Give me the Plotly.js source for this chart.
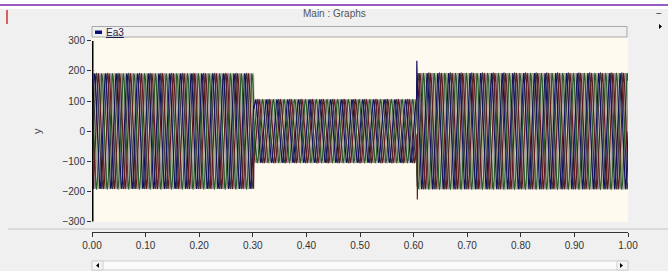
<!DOCTYPE html>
<html>
<head>
<meta charset="utf-8">
<script src="https://cdn.plot.ly/plotly-3.0.1.min.js"></script>
<style>html,body{margin:0;padding:0;background:#f0f0f0;}#chart{width:668px;height:271px;}</style>
</head>
<body>
<div id="chart"></div>
<script>
// ---- data ----
const segmentStart = [0.0, 0.302, 0.606];      // s
const segmentEnd   = [0.302, 0.606, 1.0];      // s
const segmentAmplitude = [192, 105, 193];      // peak y in each interval
const lineFrequencyHz = 50;
const seriesNames = ["Ea3", "Eb3", "Ec3", "Ea4", "Eb4", "Ec4"];
const seriesPhaseDeg = [0, 240, 120, 180, 60, 300];
const transientSeries = [0, 1, 2];             // index of series with a switching spike
const transientTime = [0.606, 0.607, 0.303];
const transientValue = [234, -227, -90];
const xTicks = [0.0, 0.1, 0.2, 0.3, 0.4, 0.5, 0.6, 0.7, 0.8, 0.9, 1.0];
const yTicks = [-300, -200, -100, 0, 100, 200, 300];

// ---- styles ----
const seriesColors = ["#12125e", "#5e1a1e", "#2a5a2a", "#9c8a98", "#a8ae8a", "#3c3c40"];
const drawOrder = [3, 4, 5, 2, 1, 0];

function ampAt(t) {
  for (let i = 0; i < segmentStart.length; i++) {
    if (t >= segmentStart[i] && t < segmentEnd[i]) return segmentAmplitude[i];
  }
  return segmentAmplitude[segmentAmplitude.length - 1];
}

const step = 0.0005;
const traces = drawOrder.map(k => {
  const xs = [], ys = [];
  const n = Math.round(1 / step);
  for (let i = 0; i <= n; i++) {
    const t = i * step;
    xs.push(t);
    ys.push(ampAt(t) * Math.sin(2 * Math.PI * lineFrequencyHz * t + seriesPhaseDeg[k] * Math.PI / 180));
  }
  transientSeries.forEach((s, j) => {
    if (s === k) {
      const idx = xs.findIndex(v => v >= transientTime[j]);
      xs.splice(idx, 0, transientTime[j]);
      ys.splice(idx, 0, transientValue[j]);
    }
  });
  return {x: xs, y: ys, type: 'scatter', mode: 'lines', name: seriesNames[k],
          line: {color: seriesColors[k], width: 1.2}, showlegend: false, hoverinfo: 'skip'};
});

// pixel -> paper helpers (plot box x 92..628, paper y 37..232)
const L = 92, R = 628, T = 37, B = 232;
const fx = p => (p - L) / (R - L);
const fy = p => (B - p) / (B - T);

const shapes = [
  {type: 'rect', xref: 'paper', yref: 'paper', x0: fx(0), x1: fx(668), y0: fy(0), y1: fy(9), fillcolor: '#ffffff', line: {width: 0}, layer: 'below'},
  {type: 'line', xref: 'paper', yref: 'paper', x0: fx(0), x1: fx(668), y0: fy(5), y1: fy(5), line: {color: '#9a5cc4', width: 2}},
  {type: 'line', xref: 'paper', yref: 'paper', x0: fx(7), x1: fx(7), y0: fy(10), y1: fy(24), line: {color: '#d03030', width: 1.5}},
  // legend strip box
  {type: 'rect', xref: 'paper', yref: 'paper', x0: fx(L), x1: fx(627), y0: fy(37), y1: fy(26.5), fillcolor: '#f0f0f0', line: {color: '#a8a8a8', width: 1}, layer: 'below'},
  {type: 'rect', xref: 'paper', yref: 'paper', x0: fx(95), x1: fx(102), y0: fy(34), y1: fy(30.5), fillcolor: '#0c0c6e', line: {width: 0}},
  // separator above x axis
  {type: 'line', xref: 'paper', yref: 'paper', x0: fx(8), x1: fx(668), y0: fy(229), y1: fy(229), line: {color: '#c4c4c4', width: 1}},
  // thick y axis bar
  {type: 'line', xref: 'x', yref: 'y', x0: 0, x1: 0, y0: -300, y1: 300, line: {color: '#000000', width: 3}},
  // scrollbar
  {type: 'rect', xref: 'paper', yref: 'paper', x0: fx(L), x1: fx(R), y0: fy(270), y1: fy(261), fillcolor: '#fafafa', line: {color: '#cfcfcf', width: 1}},
  {type: 'rect', xref: 'paper', yref: 'paper', x0: fx(L), x1: fx(103), y0: fy(270), y1: fy(261), fillcolor: '#f4f4f4', line: {color: '#cfcfcf', width: 1}},
  {type: 'rect', xref: 'paper', yref: 'paper', x0: fx(617), x1: fx(R), y0: fy(270), y1: fy(261), fillcolor: '#f4f4f4', line: {color: '#cfcfcf', width: 1}},
  {type: 'path', xref: 'paper', yref: 'paper', path: `M ${fx(99)} ${fy(263)} L ${fx(96)} ${fy(265.5)} L ${fx(99)} ${fy(268)} Z`, fillcolor: '#000', line: {width: 0}},
  {type: 'path', xref: 'paper', yref: 'paper', path: `M ${fx(620)} ${fy(263)} L ${fx(623)} ${fy(265.5)} L ${fx(620)} ${fy(268)} Z`, fillcolor: '#000', line: {width: 0}},
  {type: 'path', xref: 'paper', yref: 'paper', path: `M ${fx(659)} ${fy(24)} L ${fx(662)} ${fy(26.5)} L ${fx(659)} ${fy(29)} Z`, fillcolor: '#000', line: {width: 0}}
];

const ann = (x, y, text, extra) => Object.assign({xref: 'paper', yref: 'paper', x: fx(x), y: fy(y), text: text,
  showarrow: false, xanchor: 'center', yanchor: 'middle'}, extra);
const annotations = [
  ann(334, 14, 'Main : Graphs', {font: {family: 'Liberation Sans, Arial', size: 10, color: '#555555'}}),
  ann(659, 14, '−', {font: {family: 'Liberation Sans, Arial', size: 10, color: '#333333'}}),
  ann(104, 32.5, '<u>Ea3</u>', {xanchor: 'left', font: {family: 'Liberation Sans, Arial', size: 10, color: '#1c1c50'}}),
  ann(37, 131, 'y', {textangle: -90, font: {family: 'Liberation Sans, Arial', size: 11, color: '#444444'}})
];

const layout = {
  width: 668, height: 271,
  margin: {l: L, r: 668 - R, t: T, b: 271 - B, pad: 0},
  paper_bgcolor: '#f0f0f0',
  plot_bgcolor: '#fffaf0',
  showlegend: false,
  font: {family: 'Liberation Sans, Arial', size: 10, color: '#333333'},
  xaxis: {
    range: [0, 1], tickvals: xTicks, tickformat: '.2f',
    showgrid: false, zeroline: false, showline: true, linecolor: '#333333', linewidth: 1,
    ticks: 'outside', ticklen: 4, tickcolor: '#333333',
    anchor: 'free', position: 0,
    tickfont: {family: 'Liberation Sans, Arial', size: 10, color: '#333333'},
    fixedrange: true
  },
  yaxis: {
    range: [-302, 313], tickvals: yTicks, domain: [(B - 222) / (B - T), 1],
    showgrid: false, zeroline: false, showline: false,
    ticks: 'outside', ticklen: 4, tickcolor: '#333333',
    tickfont: {family: 'Liberation Sans, Arial', size: 10, color: '#333333'},
    fixedrange: true
  },
  shapes: shapes,
  annotations: annotations
};

Plotly.newPlot('chart', traces, layout, {staticPlot: true, displayModeBar: false});
</script>
</body>
</html>
